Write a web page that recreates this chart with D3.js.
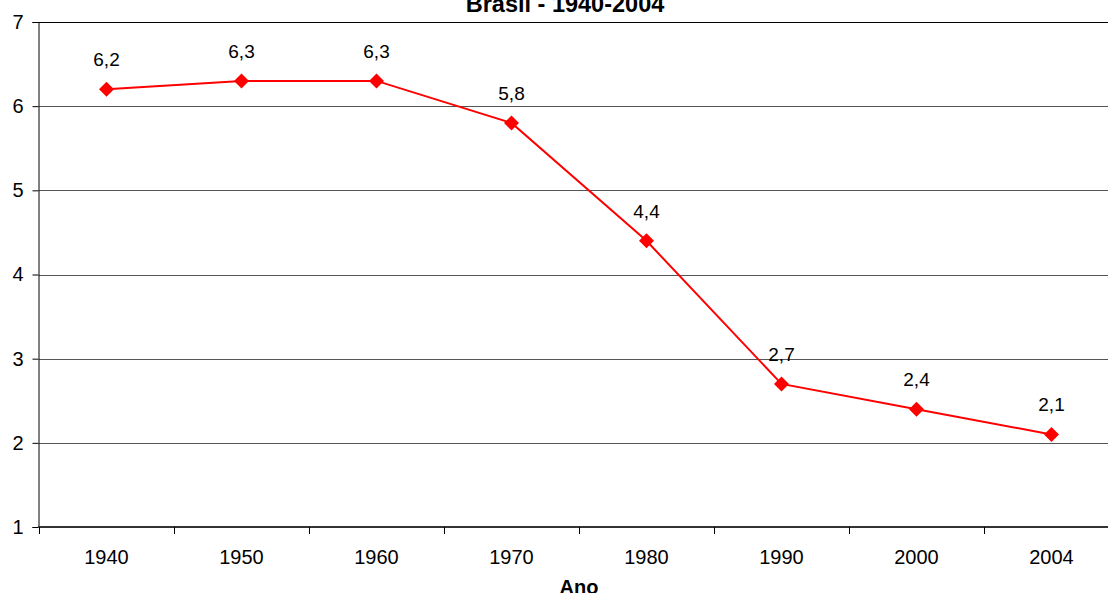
<!DOCTYPE html>
<html>
<head>
<meta charset="utf-8">
<script src="https://cdn.jsdelivr.net/npm/d3@7"></script>
<style>
  body { margin: 0; background: #fff; }
  svg { display: block; font-family: "Liberation Sans", Arial, sans-serif; }
</style>
</head>
<body>
<svg id="chart" width="1108" height="593"></svg>
<script>
// data
const anos = ["1940", "1950", "1960", "1970", "1980", "1990", "2000", "2004"];
const taxa = [6.2, 6.3, 6.3, 5.8, 4.4, 2.7, 2.4, 2.1];
const yTicks = [1, 2, 3, 4, 5, 6, 7];
const titulo = "Brasil - 1940-2004";
const eixoX = "Ano";

const svg = d3.select("#chart");
const margin = {top: 22, left: 39, bottom: 66};
const plotW = 1080, plotH = 593 - margin.top - margin.bottom;

const x = d3.scaleBand().domain(anos).range([margin.left, margin.left + plotW]);
const y = d3.scaleLinear().domain([1, 7]).range([margin.top + plotH, margin.top]);

// gridlines
svg.append("g")
    .selectAll("line")
    .data(yTicks)
    .join("line")
    .attr("x1", margin.left)
    .attr("x2", margin.left + plotW)
    .attr("y1", d => Math.round(y(d)) + 0.5)
    .attr("y2", d => Math.round(y(d)) + 0.5)
    .attr("stroke", d => d === 7 ? "#000" : "#555")
    .attr("stroke-width", 1);

// y axis
let yAxis = svg.append("g")
    .attr("transform", "translate(" + (margin.left - 0.5) + ",0)")
    .call(d3.axisLeft(y).tickValues(yTicks).tickSize(6).tickPadding(9).tickFormat(d3.format("d")));
yAxis.select(".domain").attr("stroke", "#000");
yAxis.selectAll(".tick line").attr("stroke", "#000");
yAxis.selectAll("text").attr("font-size", 20).attr("fill", "#000");

// x axis with ticks at band edges
let xAxisG = svg.append("g")
    .attr("transform", "translate(0," + (margin.top + plotH) + ")");
xAxisG.append("line")
    .attr("x1", margin.left - 1)
    .attr("x2", margin.left + plotW)
    .attr("stroke", "#333")
    .attr("stroke-width", 2);
let edges = anos.map(d => x(d));
xAxisG.selectAll(".edge")
    .data(edges)
    .join("line")
    .attr("class", "edge")
    .attr("x1", d => Math.round(d) + 0.5)
    .attr("x2", d => Math.round(d) + 0.5)
    .attr("y1", 0)
    .attr("y2", 7)
    .attr("stroke", "#000");
xAxisG.selectAll(".lbl")
    .data(anos)
    .join("text")
    .attr("class", "lbl")
    .attr("x", d => x(d) + x.bandwidth() / 2)
    .attr("y", 37)
    .attr("text-anchor", "middle")
    .attr("font-size", 20)
    .text(d => d);

// line
let pts = anos.map((a, i) => [x(a) + x.bandwidth() / 2, y(taxa[i])]);
svg.append("path")
    .datum(pts)
    .attr("fill", "none")
    .attr("stroke", "#ff0000")
    .attr("stroke-width", 2)
    .attr("d", d3.line());

// markers
svg.append("g")
    .selectAll("path")
    .data(pts)
    .join("path")
    .attr("transform", d => "translate(" + d[0] + "," + d[1] + ")")
    .attr("d", "M0,-7.5L7.5,0L0,7.5L-7.5,0Z")
    .attr("fill", "#ff0000");

// value labels
svg.append("g")
    .selectAll("text")
    .data(pts)
    .join("text")
    .attr("x", d => d[0])
    .attr("y", d => d[1] - 23)
    .attr("text-anchor", "middle")
    .attr("font-size", 19)
    .text((d, i) => String(taxa[i]).replace(".", ","));

// title and axis label
svg.append("text")
    .attr("x", 565)
    .attr("y", 12)
    .attr("text-anchor", "middle")
    .attr("font-size", 23.5)
    .attr("font-weight", "bold")
    .text(titulo);
svg.append("text")
    .attr("x", x("1970") + x.bandwidth())
    .attr("y", 594)
    .attr("text-anchor", "middle")
    .attr("font-size", 20)
    .attr("font-weight", "bold")
    .text(eixoX);
</script>
</body>
</html>
